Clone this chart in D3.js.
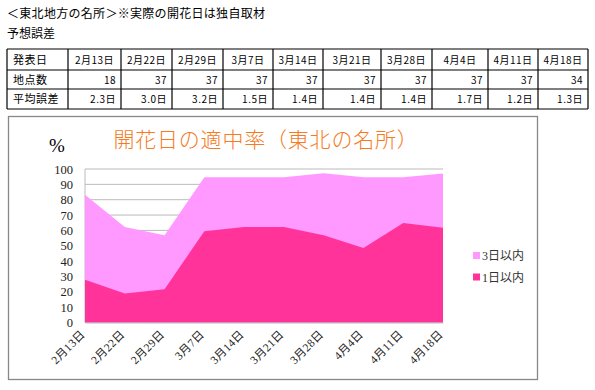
<!DOCTYPE html>
<html><head><meta charset="utf-8">
<script src="https://cdn.jsdelivr.net/npm/d3@7"></script>
<style>
body{margin:0;background:#fff;}
svg{display:block;}
</style></head>
<body><svg id="c" width="595" height="390"></svg>
<script>
const dates = ["2月13日","2月22日","2月29日","3月7日","3月14日","3月21日","3月28日","4月4日","4月11日","4月18日"];
const sites = [18,37,37,37,37,37,37,37,37,34];
const errors = ["2.3日","3.0日","3.2日","1.5日","1.4日","1.4日","1.4日","1.7日","1.2日","1.3日"];
const within3 = [83.3,62.2,56.8,94.6,94.6,94.6,97.3,94.6,94.6,97.1];
const within1 = [27.8,18.9,21.6,59.5,62.2,62.2,56.8,48.6,64.9,61.8];
const yTicks = [0,10,20,30,40,50,60,70,80,90,100];
const seriesNames = ["3日以内","1日以内"];
const colors = ["#FF99FF","#FF3399"];

const svg = d3.select("#c");
const gothic = "'Noto Sans CJK JP', 'DejaVu Sans', sans-serif";
const serif = "'Liberation Serif', 'DejaVu Serif', 'Noto Sans CJK JP', serif";

// header text
svg.append("text").attr("x",7).attr("y",18).style("font-family",gothic).style("font-size","12px")
  .style("letter-spacing","0.3px").text("＜東北地方の名所＞※実際の開花日は独自取材");
svg.append("text").attr("x",7).attr("y",38).style("font-family",gothic).style("font-size","12px")
  .text("予想誤差");

// table
const colX = [7,68,121,172,223,273,323,381,432,488,538,588];
const rowY = [49,70,89,109];
const tbl = svg.append("g");
const rows = [["発表日",...dates],["地点数",...sites.map(String)],["平均誤差",...errors]];
rows.forEach((r,ri)=>{
  r.forEach((t,ci)=>{
    const x0=colX[ci], x1=colX[ci+1], yc=(rowY[ri]+rowY[ri+1])/2;
    let x, anchor;
    if(ci===0){x=x0+6;anchor="start";}
    else if(ri===0){x=(x0+x1)/2;anchor="middle";}
    else {x=x1-5;anchor="end";}
    tbl.append("text").attr("x",x).attr("y",yc+4).attr("text-anchor",anchor)
      .style("font-family",gothic).style("font-size",(ci===0?11:10)+"px")
      .style("letter-spacing","0.5px").text(t);
  });
});
rowY.forEach(y=>tbl.append("line").attr("x1",colX[0]).attr("x2",colX[colX.length-1]).attr("y1",y).attr("y2",y).attr("stroke","#000").attr("stroke-width",1.2));
colX.forEach(x=>tbl.append("line").attr("x1",x).attr("x2",x).attr("y1",rowY[0]).attr("y2",rowY[3]).attr("stroke","#000").attr("stroke-width",1.2));

// chart frame
svg.append("rect").attr("x",8.5).attr("y",116.5).attr("width",529).attr("height",263)
  .attr("fill","#fff").attr("stroke","#888").attr("stroke-width",1.3);

svg.append("text").attr("x",266).attr("y",147).attr("text-anchor","middle")
  .style("font-family",gothic).style("font-size","21px").style("font-weight",300)
  .style("letter-spacing","0.8px").attr("fill","#F57A22")
  .text("開花日の適中率（東北の名所）");
svg.append("text").attr("x",57).attr("y",152).attr("text-anchor","middle")
  .style("font-family",serif).style("font-size","19px").text("%");

const x = d3.scalePoint().domain(dates).range([85,443]);
const y = d3.scaleLinear().domain([0,100]).range([322.5,169]);

// grid
svg.append("g").selectAll("line").data(yTicks).join("line")
  .attr("x1",85).attr("x2",443).attr("y1",d=>y(d)).attr("y2",d=>y(d))
  .attr("stroke","#BBBBBB").attr("stroke-width",1);
svg.append("line").attr("x1",85).attr("x2",85).attr("y1",y(100)).attr("y2",y(0)).attr("stroke","#BBBBBB");

const area = vals => d3.area().x((d,i)=>x(dates[i])).y0(y(0)).y1(d=>y(d))(vals);
svg.append("path").attr("d",area(within3)).attr("fill",colors[0]);
svg.append("path").attr("d",area(within1)).attr("fill",colors[1]);

// y axis
const ya = svg.append("g").attr("transform","translate(85,0)")
  .call(d3.axisLeft(y).tickValues(yTicks).tickSize(0).tickPadding(12));
ya.select(".domain").remove();
ya.attr("font-family",null);
ya.selectAll("text").style("font-family",serif).style("font-size","12.5px").attr("fill","#222");

// x axis
const xa = svg.append("g").attr("transform","translate(0,322.5)")
  .call(d3.axisBottom(x).tickSize(0));
xa.attr("font-family",null);
xa.select(".domain").attr("stroke","#BBBBBB");
xa.selectAll("text").style("font-family",serif).style("font-size","11.5px").attr("fill","#222")
  .style("letter-spacing","0.3px")
  .attr("text-anchor","end").attr("transform","rotate(-45)").attr("dx","-9").attr("dy","6");

// legend
const lg = svg.append("g");
seriesNames.forEach((n,i)=>{
  const ly = 256 + i*21.5;
  lg.append("rect").attr("x",473).attr("y",ly-4).attr("width",7).attr("height",7).attr("fill",colors[i]);
  lg.append("text").attr("x",482).attr("y",ly+4).style("font-family",serif).style("font-size","12px")
    .attr("fill","#333").text(n);
});
</script></body></html>
